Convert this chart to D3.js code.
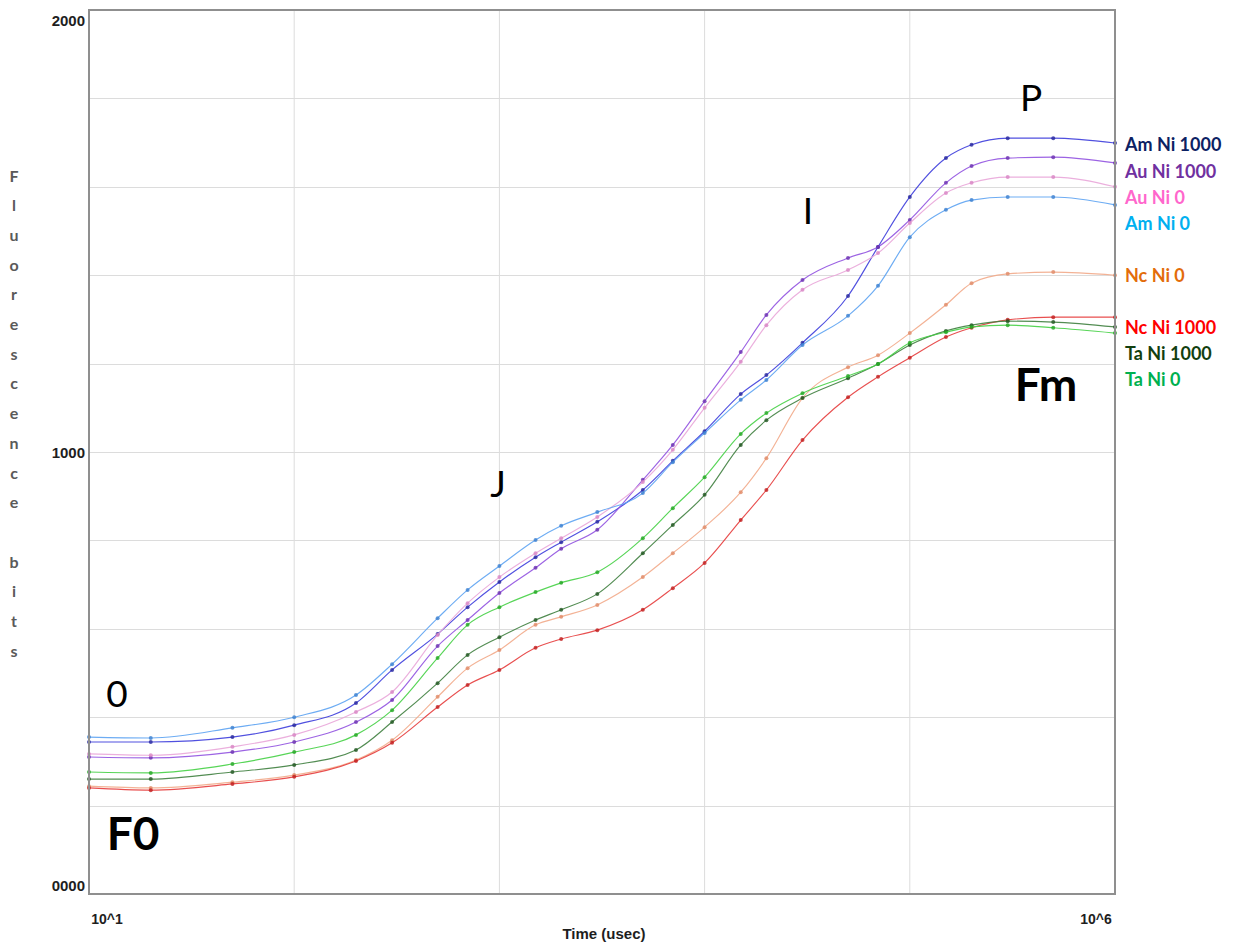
<!DOCTYPE html>
<html>
<head>
<meta charset="utf-8">
<script src="https://cdn.jsdelivr.net/npm/d3@7"></script>
<style>
  html, body { margin: 0; padding: 0; background: #fff; }
  svg { display: block; }
</style>
</head>
<body>
<svg id="chart" width="1235" height="944"></svg>
<script>
// Sampling times of the fluorescence transient (microseconds)
const timeUs = [10, 20, 50, 100, 200, 300, 500, 700, 1000, 1500, 2000, 3000, 5000, 7000,
  10000, 15000, 20000, 30000, 50000, 70000, 100000, 150000, 200000, 300000, 500000, 1000000];

// Fluorescence (bits) for each treatment
const amNi1000 = [344, 344, 355, 382, 432, 507, 588, 649, 706, 762, 796, 842, 914, 980, 1047, 1131, 1174, 1247, 1353, 1464, 1577, 1665, 1695, 1710, 1710, 1699];
const auNi1000 = [310, 308, 321, 344, 389, 439, 561, 620, 681, 738, 781, 824, 937, 1016, 1115, 1226, 1310, 1389, 1439, 1464, 1525, 1609, 1647, 1665, 1667, 1654];
const auNi0    = [317, 314, 333, 360, 412, 457, 586, 658, 717, 771, 805, 853, 932, 1005, 1100, 1204, 1287, 1367, 1412, 1450, 1518, 1586, 1609, 1622, 1622, 1600];
const amNi0    = [355, 353, 376, 400, 450, 520, 624, 688, 742, 801, 833, 864, 907, 977, 1043, 1118, 1163, 1242, 1308, 1376, 1486, 1548, 1570, 1577, 1577, 1559];
const ncNi0    = [244, 240, 253, 269, 303, 348, 446, 511, 552, 609, 627, 654, 717, 771, 830, 909, 986, 1122, 1192, 1219, 1269, 1333, 1382, 1403, 1407, 1400];
const ncNi1000 = [240, 235, 249, 265, 301, 342, 423, 473, 507, 557, 577, 597, 643, 692, 749, 846, 914, 1027, 1124, 1170, 1213, 1260, 1281, 1299, 1305, 1305];
const taNi1000 = [260, 260, 276, 292, 326, 389, 477, 541, 581, 620, 643, 679, 771, 835, 903, 1016, 1072, 1122, 1167, 1199, 1242, 1274, 1287, 1296, 1294, 1283];
const taNi0    = [276, 274, 294, 321, 360, 416, 534, 609, 649, 683, 704, 728, 805, 873, 943, 1041, 1088, 1133, 1172, 1199, 1247, 1271, 1283, 1287, 1281, 1269];

const seriesNames = ["Am Ni 1000", "Au Ni 1000", "Au Ni 0", "Am Ni 0", "Nc Ni 0", "Nc Ni 1000", "Ta Ni 1000", "Ta Ni 0"];
const seriesValues = [amNi1000, auNi1000, auNi0, amNi0, ncNi0, ncNi1000, taNi1000, taNi0];

// Axis texts
const yTickValues = [0, 1000, 2000];
const yTickLabels = ["0000", "1000", "2000"];
const xTickValues = [10, 1000000];
const xTickLabels = ["10^1", "10^6"];
const xTitle = "Time (usec)";
const yTitle = "Fluorescence bits";

// OJIP phase notes (time, fluorescence)
const phaseText  = ["0", "J", "I", "P", "F0", "Fm"];
const phaseTime  = [13.7, 985, 31900, 390000, 16.4, 461000];
const phaseValue = [455, 930, 1548, 1805, 140, 1154];
const phaseBold  = [false, false, false, false, true, true];

// ---- styling ----
const lineColors  = ["#3d3ddb", "#9152e0", "#e9a6d9", "#5da3f2", "#f2aa8a", "#e63c3c", "#3f7f3f", "#45d045"];
const dotColors   = ["#25259c", "#6a30b0", "#d884c4", "#3b80cf", "#e08a66", "#c01e1e", "#1f551f", "#22a622"];
const labelColors = ["#0c2163", "#7030a0", "#ff66cc", "#00b0f0", "#e36c0a", "#ff0000", "#123f10", "#00b050"];
const labelY      = [144, 171, 197, 223, 275, 327, 353, 379];

const svg = d3.select("#chart");
const plot = { left: 89, right: 1115, top: 10, bottom: 894 };

const x = d3.scaleLog().domain([10, 1000000]).range([plot.left, plot.right]);
const y = d3.scaleLinear().domain([0, 2000]).range([plot.bottom, plot.top]);

svg.append("rect").attr("width", 1235).attr("height", 944).attr("fill", "#fff");

// grid
const grid = svg.append("g");
grid.selectAll("line.gx")
  .data([100, 1000, 10000, 100000])
  .join("line")
  .attr("x1", d => x(d)).attr("x2", d => x(d))
  .attr("y1", plot.top).attr("y2", plot.bottom)
  .attr("stroke", "#dcdcdc").attr("stroke-width", 1);
grid.selectAll("line.gy")
  .data(d3.range(200, 2000, 200))
  .join("line")
  .attr("x1", plot.left).attr("x2", plot.right)
  .attr("y1", d => Math.round(y(d)) + 0.5).attr("y2", d => Math.round(y(d)) + 0.5)
  .attr("stroke", "#dcdcdc").attr("stroke-width", 1);

// series
const line = d3.line()
  .x((d, i) => x(timeUs[i]))
  .y(d => y(d))
  .curve(d3.curveMonotoneX);

const sg = svg.append("g");
seriesValues.forEach((vals, k) => {
  const g = sg.append("g");
  g.append("path")
    .attr("d", line(vals))
    .attr("fill", "none")
    .attr("stroke", lineColors[k])
    .attr("stroke-width", 1.15)
    .attr("stroke-opacity", 0.9);
  g.selectAll("circle")
    .data(vals)
    .join("circle")
    .attr("cx", (d, i) => x(timeUs[i]))
    .attr("cy", d => y(d))
    .attr("r", 2)
    .attr("fill", dotColors[k])
    .attr("fill-opacity", 0.8);
});

// frame
svg.append("rect")
  .attr("x", plot.left).attr("y", plot.top)
  .attr("width", plot.right - plot.left).attr("height", plot.bottom - plot.top)
  .attr("fill", "none").attr("stroke", "#8f8f8f").attr("stroke-width", 2);

// y tick labels (end labels pulled inside the frame)
const yShift = [-9, 0, 10];
svg.append("g").selectAll("text")
  .data(yTickValues)
  .join("text")
  .attr("x", 85)
  .attr("y", (d, i) => y(d) + yShift[i])
  .attr("text-anchor", "end")
  .attr("dominant-baseline", "central")
  .attr("font-family", "Liberation Sans, Arial, sans-serif")
  .attr("font-weight", "bold")
  .attr("font-size", 15)
  .attr("fill", "#1e1e1e")
  .text((d, i) => yTickLabels[i]);

// x tick labels
const xShift = [18, -19];
svg.append("g").selectAll("text")
  .data(xTickValues)
  .join("text")
  .attr("x", (d, i) => x(d) + xShift[i])
  .attr("y", 919)
  .attr("text-anchor", "middle")
  .attr("dominant-baseline", "central")
  .attr("font-family", "Liberation Sans, Arial, sans-serif")
  .attr("font-weight", "bold")
  .attr("font-size", 14)
  .attr("fill", "#1e1e1e")
  .text((d, i) => xTickLabels[i]);

svg.append("text")
  .attr("x", (plot.left + plot.right) / 2 + 2)
  .attr("y", 933)
  .attr("text-anchor", "middle")
  .attr("dominant-baseline", "central")
  .attr("font-family", "Liberation Sans, Arial, sans-serif")
  .attr("font-weight", "bold")
  .attr("font-size", 15)
  .attr("fill", "#1e1e1e")
  .text(xTitle);

// vertical stacked y title
const letters = yTitle.split("");
svg.append("g").selectAll("text")
  .data(letters)
  .join("text")
  .attr("x", 14)
  .attr("y", (d, i) => 175 + i * 29.7)
  .attr("text-anchor", "middle")
  .attr("dominant-baseline", "central")
  .attr("font-family", "Lato, sans-serif")
  .attr("font-weight", "bold")
  .attr("font-size", 16)
  .attr("fill", "#5a5a5a")
  .text(d => d);

// series labels at the right
svg.append("g").selectAll("text")
  .data(seriesNames)
  .join("text")
  .attr("x", 1125)
  .attr("y", (d, i) => labelY[i])
  .attr("dominant-baseline", "central")
  .attr("font-family", "Lato, sans-serif")
  .attr("font-weight", "bold")
  .attr("font-size", 18)
  .attr("fill", (d, i) => labelColors[i])
  .text(d => d);

// phase notes
svg.append("g").selectAll("text")
  .data(phaseText)
  .join("text")
  .attr("x", (d, i) => x(phaseTime[i]))
  .attr("y", (d, i) => y(phaseValue[i]))
  .attr("text-anchor", "middle")
  .attr("dominant-baseline", "central")
  .attr("font-family", "Lato, sans-serif")
  .attr("font-weight", (d, i) => phaseBold[i] ? "bold" : "normal")
  .attr("font-size", (d, i) => phaseBold[i] ? 46 : 37)
  .attr("fill", "#000")
  .text(d => d);
</script>
</body>
</html>
